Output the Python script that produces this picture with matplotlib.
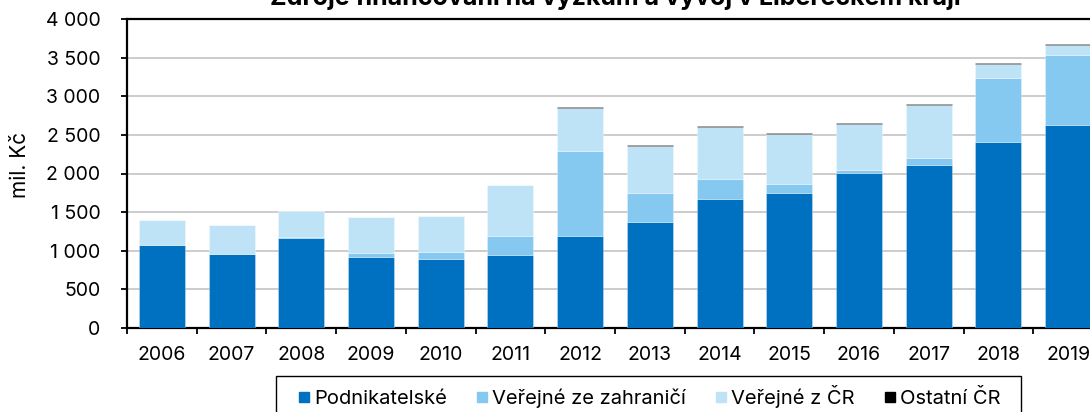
import matplotlib
matplotlib.use("Agg")
import matplotlib.pyplot as plt
from matplotlib.lines import Line2D
from matplotlib.patches import Rectangle
import numpy as np

years = ["2006", "2007", "2008", "2009", "2010", "2011", "2012",
         "2013", "2014", "2015", "2016", "2017", "2018", "2019"]
podnikatelske = [1075, 958, 1171, 916, 894, 942, 1197, 1378, 1667, 1754, 2008, 2111, 2405, 2626]
verejne_zahranici = [3, 3, 3, 52, 90, 250, 1096, 371, 259, 111, 39, 91, 833, 902]
verejne_cr = [319, 371, 340, 468, 460, 658, 559, 607, 680, 646, 594, 685, 184, 140]
ostatni_cr = [7, 7, 7, 7, 7, 7, 7, 7, 7, 7, 7, 7, 7, 7]
series_names = ["Podnikatelské", "Veřejné ze zahraničí", "Veřejné z ČR", "Ostatní ČR"]
title = "Zdroje financování na výzkum a vývoj v Libereckém kraji"
y_label = "mil. Kč"
y_ticks = [0, 500, 1000, 1500, 2000, 2500, 3000, 3500, 4000]

colors = ["#0070C0", "#85C8F0", "#BFE3F6", "#000000"]
FONT = ["Inter", "Liberation Sans", "DejaVu Sans"]
plt.rcParams["font.family"] = FONT
FS = 14

W, H = 1090, 412
fig = plt.figure(figsize=(W / 100, H / 100), dpi=100)
left, right, bottom, top = 127, 1103, 328, 19
ax = fig.add_axes([left / W, 1 - bottom / H, (right - left) / W, (bottom - top) / H])

x = np.arange(len(years))
data = [podnikatelske, verejne_zahranici, verejne_cr, ostatni_cr]
base = np.zeros(len(years))
for vals, col, name in zip(data, colors, series_names):
    ax.bar(x, vals, width=0.66, bottom=base, color=col, label=name,
           edgecolor=(1, 1, 1, 0.35), linewidth=0.6, zorder=3)
    base = base + np.array(vals)

ax.set_xlim(-0.5, len(years) - 0.5)
ax.set_ylim(0, 4000)
ax.set_yticks(y_ticks)
ax.set_yticklabels([f"{v:,}".replace(",", " ") for v in y_ticks], fontsize=FS)
ax.set_xticks(x)
ax.set_xticklabels(years, fontsize=FS)
ax.set_xticks(np.arange(-0.5, len(years), 1), minor=True)
ax.tick_params(axis="x", which="major", length=0, pad=13)
ax.tick_params(axis="x", which="minor", length=4.5, width=1.3, direction="out")
ax.tick_params(axis="y", which="major", length=4.5, width=1.3, pad=14.5, direction="out")

ax.yaxis.grid(True, color="#c4c4c4", linewidth=1.2, zorder=0)
ax.set_axisbelow(True)
for s in ["left", "bottom", "top"]:
    ax.spines[s].set_color("black")
    ax.spines[s].set_linewidth(1.6)
ax.spines["right"].set_visible(False)

fig.text(615 / W, 1 - 5 / H, title, ha="center", va="baseline",
         fontsize=18, fontweight="bold")
fig.text(20 / W, 1 - 165 / H, y_label, ha="center", va="center",
         rotation=90, fontsize=15)

# legend frame (box extends past the lower edge, as in the reference)
fig.patches.append(Rectangle((276 / W, 1 - 440 / H), (1021 - 276) / W, 64 / H,
                             transform=fig.transFigure, facecolor="white",
                             edgecolor="black", linewidth=1.0, zorder=1))

handles = [Line2D([], [], marker="s", linestyle="none", markersize=7.8,
                  markerfacecolor=c, markeredgecolor=c) for c in colors]
leg = fig.legend(handles, series_names, loc="center left",
                 bbox_to_anchor=(298 / W, 1 - 397 / H), ncol=4, fontsize=14.5,
                 frameon=False, handlelength=0.55, handletextpad=0.25,
                 columnspacing=1.45, borderpad=0, borderaxespad=0)
leg.set_zorder(2)

fig.savefig("out.png", dpi=100)
